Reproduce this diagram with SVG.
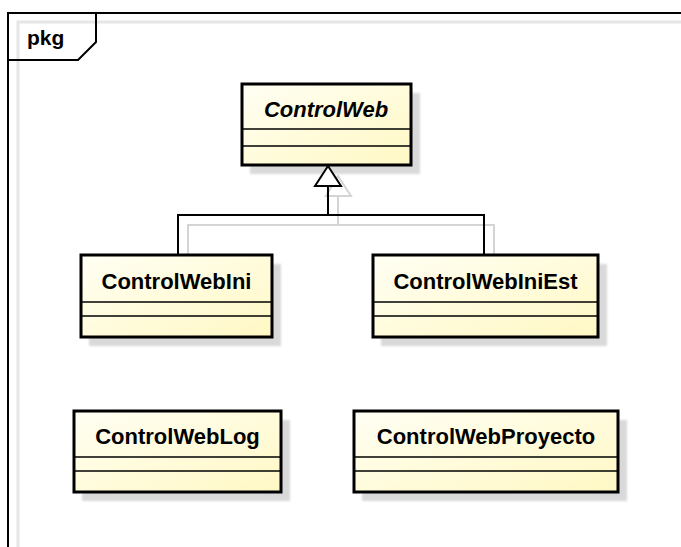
<svg xmlns="http://www.w3.org/2000/svg" width="681" height="547" viewBox="0 0 681 547">
  <defs>
    <linearGradient id="classFill" x1="0" y1="0" x2="1" y2="1">
      <stop offset="0" stop-color="#FFFFF4"/>
      <stop offset="1" stop-color="#FFF8C4"/>
    </linearGradient>
    <filter id="soft" x="-10%" y="-10%" width="120%" height="120%">
      <feGaussianBlur stdDeviation="0.8"/>
    </filter>
  </defs>
  <style>
    .frame { fill: none; stroke: #000; stroke-width: 2; }
    .frame-shadow { fill: none; stroke: #e6e6e6; stroke-width: 3; }
    .shadow { fill: #d9d9d9; filter: url(#soft); }
    .box { fill: url(#classFill); stroke: #000; stroke-width: 3; }
    .div { stroke: #000; stroke-width: 1.5; }
    .name { font-family: "Liberation Sans", Arial, sans-serif; font-size: 22px; font-weight: bold; fill: #000; text-anchor: middle; }
    .abstract { font-style: italic; }
    .label { font-family: "Liberation Sans", Arial, sans-serif; font-size: 21px; font-weight: bold; fill: #000; }
    .edge { fill: none; stroke: #000; stroke-width: 2; }
    .edge-shadow { fill: none; stroke: #d4d4d4; stroke-width: 2; }
    .head { fill: #fff; stroke: #000; stroke-width: 2; }
    .head-shadow { fill: none; stroke: #d4d4d4; stroke-width: 2; }
  </style>

  <rect width="681" height="547" fill="#fff"/>

  <!-- package frame -->
  <g id="pkg">
    <path class="frame-shadow" d="M18,560 V22 H700"/>
    <rect class="frame" x="8" y="13" width="700" height="560"/>
    <path class="frame" d="M8,60 H78 L96,42 V13"/>
    <text class="label" x="27" y="45">pkg</text>
  </g>

  <!-- connector shadows -->
  <g id="edge-shadows">
    <path class="edge-shadow" d="M188,266 V225 H494 V266"/>
    <path class="edge-shadow" d="M338,225 V196"/>
    <path class="head-shadow" d="M338,176 L351,196 H326 Z"/>
  </g>

  <g id="ControlWeb">
    <rect class="shadow" x="250" y="93" width="170" height="81"/>
    <rect class="box" x="242" y="84" width="169" height="81"/>
    <line class="div" x1="242" y1="129" x2="411" y2="129"/>
    <line class="div" x1="242" y1="146" x2="411" y2="146"/>
    <text class="name abstract" x="326" y="117">ControlWeb</text>
  </g>

  <g id="ControlWebIni">
    <rect class="shadow" x="89" y="264" width="192" height="82"/>
    <rect class="box" x="81" y="255" width="191" height="82"/>
    <line class="div" x1="81" y1="302" x2="272" y2="302"/>
    <line class="div" x1="81" y1="316" x2="272" y2="316"/>
    <text class="name" x="176.500" y="289">ControlWebIni</text>
  </g>

  <g id="ControlWebIniEst">
    <rect class="shadow" x="381" y="264" width="226" height="82"/>
    <rect class="box" x="373" y="255" width="225" height="82"/>
    <line class="div" x1="373" y1="302" x2="598" y2="302"/>
    <line class="div" x1="373" y1="316" x2="598" y2="316"/>
    <text class="name" x="485.500" y="289">ControlWebIniEst</text>
  </g>

  <g id="ControlWebLog">
    <rect class="shadow" x="82" y="420" width="208" height="81"/>
    <rect class="box" x="74" y="411" width="207" height="81"/>
    <line class="div" x1="74" y1="457" x2="281" y2="457"/>
    <line class="div" x1="74" y1="471" x2="281" y2="471"/>
    <text class="name" x="177.500" y="444">ControlWebLog</text>
  </g>

  <g id="ControlWebProyecto">
    <rect class="shadow" x="362" y="420" width="265" height="81"/>
    <rect class="box" x="354" y="411" width="264" height="81"/>
    <line class="div" x1="354" y1="457" x2="618" y2="457"/>
    <line class="div" x1="354" y1="471" x2="618" y2="471"/>
    <text class="name" x="486" y="444">ControlWebProyecto</text>
  </g>

  <!-- generalization connectors -->
  <g id="connectors">
    <path class="edge" d="M178,254 V215 H484 V254"/>
    <path class="edge" d="M328,215 V186"/>
    <path class="head" d="M328,166 L341,186 H315 Z"/>
  </g>
</svg>
